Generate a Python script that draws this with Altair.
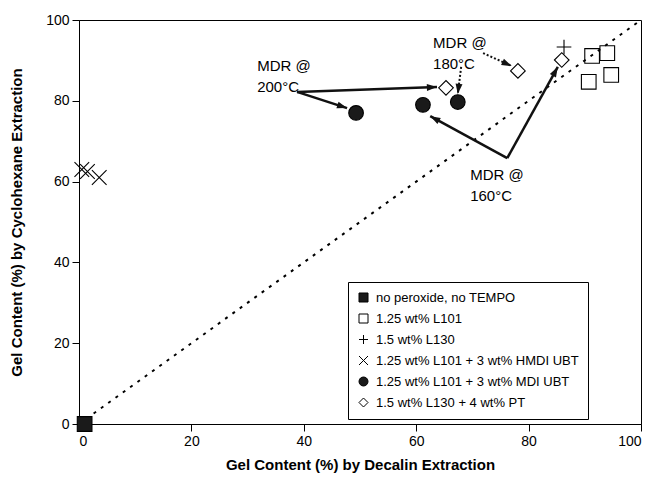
import math
import altair as alt
import pandas as pd

# ---------------- data ----------------
series_names = [
    "no peroxide, no TEMPO",
    "1.25 wt% L101",
    "1.5 wt% L130",
    "1.25 wt% L101 + 3 wt% HMDI UBT",
    "1.25 wt% L101 + 3 wt% MDI UBT",
    "1.5 wt% L130 + 4 wt% PT",
]
nop_x = [1.0]
nop_y = [0.0]
l101_x = [91.3, 94.0, 90.7, 94.7]
l101_y = [91.1, 91.8, 84.7, 86.4]
l130_x = [86.3]
l130_y = [93.3]
hmdi_x = [0.5, 1.5, 3.6]
hmdi_y = [63.0, 62.5, 61.0]
mdi_x = [49.3, 61.2, 67.4]
mdi_y = [77.0, 79.0, 79.7]
pt_x = [65.3, 78.1, 85.9]
pt_y = [83.2, 87.4, 90.1]

diag_x = [0, 100]
diag_y = [0, 100]

x_ticks = [0, 20, 40, 60, 80, 100]
y_ticks = [0, 20, 40, 60, 80, 100]

# annotations: label text and anchor
ann_text = ["MDR @\n200°C", "MDR @\n180°C", "MDR @\n160°C"]
ann_x = [31.7, 63.0, 69.6]
ann_y = [87.4, 93.1, 60.4]

# arrows: start -> tip, style
arr_x1 = [38.8, 38.8, 76.2, 76.2, 68.0, 71.9]
arr_y1 = [82.2, 82.2, 65.8, 65.8, 88.4, 91.8]
arr_x2 = [47.7, 63.7, 62.5, 85.2, 67.4, 77.0]
arr_y2 = [78.2, 83.4, 76.2, 88.4, 81.7, 88.6]
arr_style = ["solid", "solid", "solid", "solid", "dotted", "dotted"]

# ---------------- layout ----------------
W, H = 562, 404
PX_X = W / 100.0
PX_Y = H / 100.0

rows = []
for xs, ys, name in [(nop_x, nop_y, series_names[0]), (l101_x, l101_y, series_names[1]),
                     (l130_x, l130_y, series_names[2]), (hmdi_x, hmdi_y, series_names[3]),
                     (mdi_x, mdi_y, series_names[4]), (pt_x, pt_y, series_names[5])]:
    for a, b in zip(xs, ys):
        rows.append({"x": a, "y": b, "series": name})
pts = pd.DataFrame(rows)

arr = pd.DataFrame({"x1": arr_x1, "y1": arr_y1, "x2": arr_x2, "y2": arr_y2, "style": arr_style})
arr["angle"] = [
    (math.degrees(math.atan2((r.x2 - r.x1) * PX_X, (r.y2 - r.y1) * PX_Y)) + 360) % 360
    for r in arr.itertuples()
]

xs = alt.Scale(domain=[0, 100], nice=False, zero=False)
ys = alt.Scale(domain=[0, 100], nice=False, zero=False)

FONT = "Liberation Sans"

diag = alt.Chart(pd.DataFrame({"x": diag_x, "y": diag_y})).mark_line(
    color="black", strokeWidth=2, strokeDash=[3, 6]
).encode(
    x=alt.X("x:Q", scale=xs, axis=alt.Axis(values=x_ticks, title="Gel Content (%) by Decalin Extraction",
                                           titlePadding=9)),
    y=alt.Y("y:Q", scale=ys, axis=alt.Axis(values=y_ticks, title="Gel Content (%) by Cyclohexane Extraction",
                                           titlePadding=21)),
)

shape_range = ["square", "square", "M-1,0L1,0M0,-1L0,1", "M-1,-1L1,1M-1,1L1,-1", "circle", "diamond"]
fill_range = ["#1a1a1a", "transparent", "transparent", "transparent", "#1a1a1a", "white"]

leg = alt.Legend(
    title=None, orient="none", legendX=269, legendY=262, strokeColor="black", fillColor="white",
    padding=9, labelFont=FONT, labelFontSize=13, labelColor="black", symbolSize=81, labelLimit=400,
    symbolStrokeColor="black", symbolStrokeWidth=1, rowPadding=7, labelOffset=6, cornerRadius=0,
)

points = alt.Chart(pts).mark_point(filled=True, stroke="black", strokeWidth=1.1, opacity=1, size=215).encode(
    x="x:Q",
    y="y:Q",
    shape=alt.Shape("series:N", scale=alt.Scale(domain=series_names, range=shape_range), legend=leg),
    color=alt.Color("series:N", scale=alt.Scale(domain=series_names, range=fill_range), legend=leg),
)

solid = arr[arr["style"] == "solid"]
dotted = arr[arr["style"] == "dotted"]

solid_lines = alt.Chart(solid).mark_rule(color="#111", strokeWidth=2.5).encode(
    x="x1:Q", y="y1:Q", x2="x2:Q", y2="y2:Q")
dotted_lines = alt.Chart(dotted).mark_rule(color="#111", strokeWidth=2, strokeDash=[2, 2]).encode(
    x="x1:Q", y="y1:Q", x2="x2:Q", y2="y2:Q")

heads = alt.Chart(arr).mark_point(
    shape="M0,0L0.55,1.6L-0.55,1.6Z", filled=True, color="#111", size=160, opacity=1
).encode(x="x2:Q", y="y2:Q", angle=alt.Angle("angle:Q", scale=None))

labels = alt.Chart(pd.DataFrame({"t": ann_text, "x": ann_x, "y": ann_y})).mark_text(
    align="left", baseline="alphabetic", fontSize=15, font=FONT, lineBreak="\n", lineHeight=21, color="black"
).encode(x="x:Q", y="y:Q", text="t:N")

chart = alt.layer(diag, solid_lines, dotted_lines, heads, points, labels).properties(
    width=W, height=H,
    autosize=alt.AutoSizeParams(type="none"),
    padding={"left": 71, "top": 12, "right": 9, "bottom": 55},
).configure_view(
    stroke="black", strokeWidth=1
).configure_axis(
    grid=False, domainColor="black", tickColor="black", tickSize=7, labelPadding=3,
    labelColor="black", labelFont=FONT, labelFontSize=14, titleFont=FONT, titleFontSize=15,
    titleFontWeight="bold", titleColor="black", domainWidth=1, tickWidth=1,
)

chart.save("out.html", embed_options={"renderer": "svg", "actions": False})
